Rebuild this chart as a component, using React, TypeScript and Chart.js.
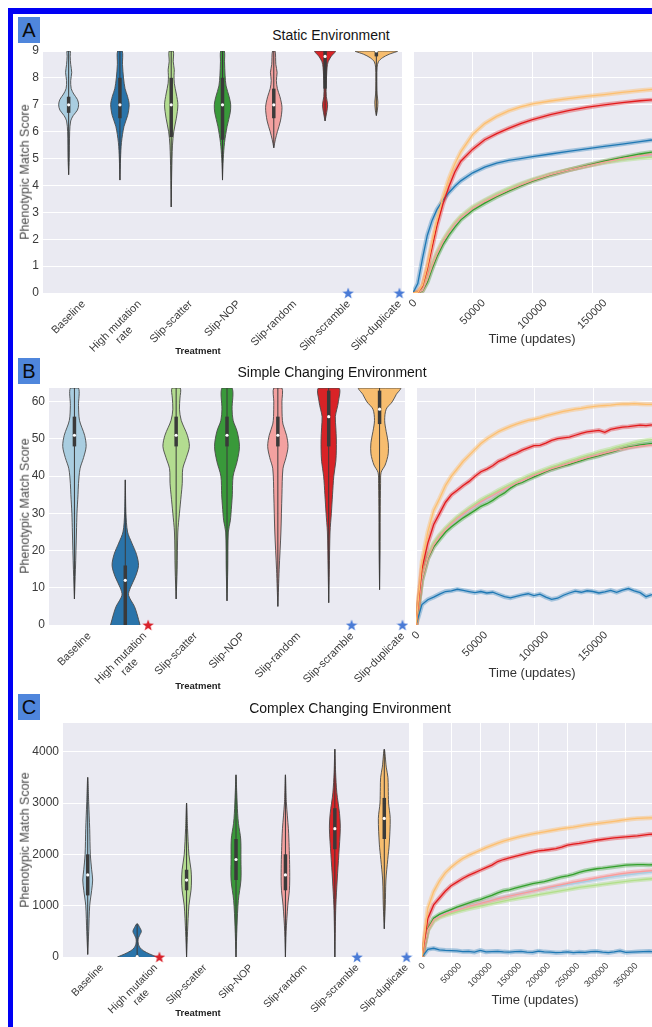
import React, { useEffect, useRef } from 'react';
import { Chart, registerables } from 'chart.js';

Chart.register(...registerables);

const FONT = "'Liberation Sans', Arial, Helvetica, sans-serif";
const LABEL_COLOR = '#3a3a3a';
const PLOT_BG = '#eaeaf2';
const VIOLIN_EDGE = '#4a4a4a';
const INNER = '#3a3a3a';

// ---------- categories & colours ----------
const treatments = ['Baseline', 'High mutation rate', 'Slip-scatter', 'Slip-NOP', 'Slip-random', 'Slip-scramble', 'Slip-duplicate'];
const treatmentTickLabels: (string | string[])[] = ['Baseline', ['High mutation', 'rate'], 'Slip-scatter', 'Slip-NOP', 'Slip-random', 'Slip-scramble', 'Slip-duplicate'];
const violinFill = ['#a9cde0', '#2a74aa', '#b3dc90', '#39993a', '#f3a1a0', '#d82327', '#f7bd6f'];
const lineColor = ['#a6cee3', '#1f78b4', '#b2df8a', '#33a02c', '#fb9a99', '#e31a1c', '#fdbf6f'];
const bandColor = ['rgba(166,206,227,0.45)', 'rgba(31,120,180,0.35)', 'rgba(178,223,138,0.5)', 'rgba(51,160,44,0.35)', 'rgba(251,154,153,0.45)', 'rgba(227,26,28,0.35)', 'rgba(253,191,111,0.45)'];

// ---------- Panel A: Static Environment ----------
const staticYTicks = [0, 1, 2, 3, 4, 5, 6, 7, 8, 9];
const staticYMax = 9;
// violin profiles: [score, half width (category units)]
const staticViolins: number[][][] = [
  [[4.4, 0], [5.0, 0.012], [6.0, 0.02], [6.4, 0.04], [6.6, 0.09], [6.8, 0.17], [7.0, 0.195], [7.2, 0.17], [7.4, 0.1], [7.6, 0.05], [7.9, 0.04], [8.2, 0.06], [8.5, 0.04], [8.8, 0.03], [9, 0.03]],
  [[4.2, 0], [5.0, 0.012], [5.6, 0.03], [6.2, 0.08], [6.6, 0.15], [7.0, 0.18], [7.3, 0.15], [7.6, 0.1], [8.0, 0.07], [8.5, 0.05], [9, 0.045]],
  [[3.2, 0], [4.5, 0.01], [5.5, 0.025], [6.0, 0.05], [6.5, 0.1], [7.0, 0.13], [7.4, 0.1], [7.8, 0.06], [8.1, 0.055], [8.3, 0.06], [8.6, 0.04], [9, 0.04]],
  [[4.2, 0], [5.0, 0.015], [5.6, 0.04], [6.2, 0.09], [6.7, 0.15], [7.0, 0.16], [7.3, 0.13], [7.7, 0.07], [8.1, 0.05], [8.6, 0.04], [9, 0.035]],
  [[5.4, 0], [5.7, 0.03], [6.0, 0.07], [6.4, 0.13], [6.9, 0.16], [7.3, 0.12], [7.6, 0.07], [7.9, 0.05], [8.2, 0.065], [8.5, 0.04], [9, 0.025]],
  [[6.4, 0], [6.7, 0.03], [7.0, 0.05], [7.3, 0.025], [7.7, 0.02], [8.1, 0.03], [8.4, 0.04], [8.6, 0.06], [8.8, 0.12], [9, 0.2]],
  [[6.6, 0], [6.8, 0.02], [7.1, 0.03], [7.4, 0.015], [8.0, 0.01], [8.4, 0.015], [8.6, 0.04], [8.75, 0.12], [8.88, 0.25], [9, 0.41]],
];
// [low whisker, q1, median, q3, high whisker]
const staticBoxes = [
  [4.4, 6.7, 7.0, 7.3, 9], [4.2, 6.5, 7.0, 8.0, 9], [3.2, 5.8, 7.0, 8.0, 9], [4.2, 5.7, 7.0, 8.0, 9],
  [5.4, 6.5, 7.0, 7.6, 9], [6.4, 7.6, 8.8, 9, 9], [6.6, 8.8, 9, 9, 9],
];
const staticStarCats = [5, 6];
const staticStarColors = ['#4a7bd6', '#4a7bd6'];
const staticTimes = [0, 4000, 8000, 12000, 16000, 20000, 25000, 30000, 35000, 40000, 50000, 60000, 70000, 80000, 90000, 100000, 115000, 130000, 145000, 160000, 175000, 190000, 200000];
const staticBaseline = [0, 0, 0.1, 0.45, 0.95, 1.4, 1.85, 2.22, 2.52, 2.78, 3.15, 3.42, 3.65, 3.85, 4.03, 4.2, 4.4, 4.57, 4.72, 4.86, 4.98, 5.08, 5.12];
const staticHighMut = [0, 0.35, 1.3, 2.15, 2.7, 3.1, 3.45, 3.73, 3.97, 4.17, 4.47, 4.68, 4.83, 4.93, 5.0, 5.07, 5.17, 5.27, 5.36, 5.45, 5.54, 5.63, 5.69];
const staticScatter = [0, 0, 0.12, 0.55, 1.05, 1.5, 1.95, 2.3, 2.6, 2.85, 3.2, 3.45, 3.68, 3.88, 4.06, 4.22, 4.42, 4.58, 4.72, 4.85, 4.95, 5.02, 5.05];
const staticNOP = [0, 0, 0.08, 0.4, 0.9, 1.35, 1.8, 2.15, 2.45, 2.72, 3.08, 3.34, 3.58, 3.79, 3.98, 4.16, 4.38, 4.57, 4.74, 4.9, 5.04, 5.17, 5.24];
const staticRandom = [0, 0, 0.1, 0.5, 1.0, 1.45, 1.9, 2.25, 2.55, 2.8, 3.15, 3.41, 3.63, 3.83, 4.02, 4.19, 4.4, 4.57, 4.72, 4.87, 5.0, 5.1, 5.15];
const staticScramble = [0, 0.02, 0.25, 0.9, 1.7, 2.5, 3.3, 3.95, 4.5, 4.9, 5.35, 5.7, 5.93, 6.12, 6.3, 6.45, 6.63, 6.78, 6.9, 7.0, 7.08, 7.15, 7.18];
const staticDuplicate = [0, 0.02, 0.3, 1.0, 1.9, 2.7, 3.55, 4.25, 4.8, 5.25, 5.9, 6.3, 6.57, 6.77, 6.92, 7.03, 7.14, 7.23, 7.31, 7.38, 7.46, 7.53, 7.57];
const staticTimeTicks = [0, 50000, 100000, 150000];
const staticTimeMax = 200000;

// ---------- Panel B: Simple Changing Environment ----------
const simpleYTicks = [0, 10, 20, 30, 40, 50, 60];
const simpleYMax = 63.7;
const simpleViolins: number[][][] = [
  [[7, 0], [15, 0.02], [25, 0.04], [30, 0.05], [35, 0.07], [38, 0.08], [42, 0.11], [45, 0.18], [48, 0.23], [51, 0.2], [55, 0.1], [59, 0.08], [63.7, 0.08]],
  [[0, 0.29], [3, 0.23], [5, 0.18], [8, 0.065], [10, 0.1], [13, 0.2], [16, 0.26], [19, 0.22], [22, 0.13], [25, 0.045], [30, 0.013], [39, 0]],
  [[7, 0], [15, 0.02], [25, 0.033], [30, 0.065], [35, 0.1], [38, 0.12], [42, 0.13], [45, 0.2], [48, 0.26], [51, 0.22], [55, 0.1], [58, 0.065], [61, 0.075], [63.7, 0.08]],
  [[6.5, 0], [15, 0.015], [25, 0.026], [28, 0.065], [32, 0.09], [35, 0.105], [40, 0.12], [44, 0.2], [48, 0.245], [52, 0.2], [55, 0.12], [58, 0.1], [63.7, 0.1]],
  [[5, 0], [10, 0.013], [15, 0.026], [25, 0.06], [35, 0.08], [42, 0.1], [45, 0.16], [48, 0.2], [51, 0.17], [54, 0.1], [56, 0.085], [60, 0.08], [63.7, 0.08]],
  [[6, 0], [15, 0.012], [25, 0.026], [30, 0.052], [35, 0.075], [40, 0.1], [44, 0.14], [47, 0.15], [50, 0.15], [53, 0.14], [56, 0.13], [58, 0.16], [60, 0.19], [63.7, 0.2]],
  [[9.5, 0], [20, 0.01], [30, 0.013], [38, 0.02], [41, 0.03], [43, 0.11], [46, 0.17], [49, 0.17], [52, 0.13], [55, 0.1], [58, 0.13], [60, 0.25], [62, 0.33], [63.7, 0.41]],
];
const simpleBoxes = [
  [7, 48, 51, 56, 63.7], [0, 0, 12, 16, 39], [7, 48, 51, 56, 63.7], [6.5, 48, 51, 56, 63.7],
  [5, 48, 51, 56, 63.7], [6, 48, 56, 63, 63.7], [9.5, 54, 58, 63, 63.7],
];
const simpleStarCats = [1, 5, 6];
const simpleStarColors = ['#d9222b', '#4a7bd6', '#4a7bd6'];
const simpleTimes = [0, 5000, 10000, 15000, 20000, 25000, 30000, 35000, 40000, 45000, 50000, 55000, 60000, 65000, 70000, 75000, 80000, 85000, 90000, 95000, 100000, 105000, 110000, 115000, 120000, 125000, 130000, 135000, 140000, 145000, 150000, 155000, 160000, 165000, 170000, 175000, 180000, 185000, 190000, 195000, 200000];
const simpleBaseline = [0, 12, 18, 21.5, 23.8, 25.5, 27, 28.4, 29.6, 30.8, 31.8, 32.9, 33.8, 34.7, 35.6, 36.4, 37.2, 38, 38.7, 39.4, 40.1, 40.7, 41.3, 41.9, 42.4, 42.9, 43.4, 43.9, 44.4, 44.9, 45.3, 45.7, 46.1, 46.5, 46.9, 47.3, 47.7, 48, 48.3, 48.6, 48.9];
const simpleHighMut = [0, 5.5, 6.8, 7.5, 8.3, 9.0, 9.2, 9.6, 9.3, 9.0, 8.7, 9.0, 8.6, 8.8, 8.2, 7.6, 7.3, 7.7, 8.1, 8.4, 7.9, 8.3, 7.5, 6.9, 7.2, 8.0, 8.6, 9.1, 8.8, 9.2, 9.0, 8.6, 8.9, 9.3, 8.8, 9.4, 9.8, 9.2, 8.7, 7.6, 8.2];
const simpleScatter = [0, 12.5, 18.5, 22, 24.2, 26, 27.6, 29, 30.2, 31.4, 32.5, 33.6, 34.5, 35.3, 36.2, 37, 37.8, 38.6, 39.3, 40, 40.7, 41.3, 41.9, 42.5, 43, 43.6, 44.1, 44.6, 45.1, 45.6, 46, 46.5, 46.9, 47.3, 47.8, 48.2, 48.6, 49, 49.3, 49.6, 49.8];
const simpleNOP = [0, 12, 17.8, 21, 23, 25, 26.4, 27.6, 28.8, 29.8, 30.8, 31.9, 32.6, 33.5, 34.6, 35.5, 36.8, 37.8, 38.3, 39.1, 39.8, 40.5, 41.2, 41.8, 42.3, 42.8, 43.2, 43.7, 44.2, 44.7, 45.1, 45.5, 46, 46.4, 46.9, 47.4, 47.8, 48.1, 48.4, 48.6, 48.8];
const simpleRandom = [0, 12.2, 18, 21.5, 23.8, 25.6, 27.2, 28.6, 29.8, 31, 32, 33.1, 34, 34.8, 35.7, 36.5, 37.3, 38.1, 38.8, 39.5, 40.2, 40.8, 41.4, 42, 42.5, 43, 43.5, 44, 44.5, 45, 45.4, 45.8, 46.2, 46.6, 47, 47.3, 47.6, 47.9, 48.1, 48.3, 48.4];
const simpleScramble = [0, 15, 22, 27, 30, 33, 35, 36.2, 37.5, 38.6, 40, 41.2, 41.9, 42.8, 44, 44.7, 45.6, 46.2, 47, 47.6, 48.2, 48.3, 48.9, 49.6, 50.1, 50.3, 50.5, 51, 51.5, 51.9, 52.1, 52.3, 51.8, 52.6, 52.9, 53.2, 53.3, 53.5, 53.7, 53.6, 53.8];
const simpleDuplicate = [0, 17, 25, 30.8, 34, 37.5, 40, 42, 44, 45.6, 47.2, 48.8, 50, 51, 52, 52.7, 53.4, 54, 54.5, 55, 55.3, 55.7, 56.2, 56.6, 57, 57.4, 57.7, 58, 58.2, 58.5, 58.7, 58.9, 59, 59.1, 59.3, 59.4, 59.4, 59.5, 59.4, 59.3, 59.3];
const simpleTimeTicks = [0, 50000, 100000, 150000];
const simpleTimeMax = 200000;

// ---------- Panel C: Complex Changing Environment ----------
const complexYTicks = [0, 1000, 2000, 3000, 4000];
const complexYMax = 4560;
const complexViolins: number[][][] = [
  [[50, 0], [500, 0.02], [1000, 0.04], [1300, 0.08], [1500, 0.1], [1700, 0.08], [2000, 0.053], [2500, 0.04], [3000, 0.02], [3500, 0]],
  [[0, 0.4], [60, 0.25], [120, 0.13], [180, 0.06], [250, 0.025], [350, 0.02], [420, 0.05], [500, 0.085], [580, 0.05], [650, 0]],
  [[0, 0], [500, 0.02], [1000, 0.047], [1300, 0.09], [1500, 0.1], [1700, 0.09], [2000, 0.047], [2500, 0.02], [3000, 0]],
  [[0, 0], [600, 0.02], [1100, 0.047], [1500, 0.1], [1900, 0.1], [2300, 0.095], [2600, 0.05], [2800, 0.033], [3200, 0.015], [3550, 0]],
  [[0, 0], [500, 0.015], [1000, 0.047], [1300, 0.08], [1500, 0.087], [1800, 0.085], [2000, 0.08], [2300, 0.07], [2500, 0.06], [3000, 0.02], [3550, 0]],
  [[0, 0], [600, 0.01], [1000, 0.02], [1500, 0.047], [2000, 0.08], [2500, 0.11], [2800, 0.094], [3200, 0.04], [3600, 0.015], [4050, 0]],
  [[550, 0], [1000, 0.02], [1500, 0.033], [1900, 0.07], [2200, 0.1], [2700, 0.12], [3000, 0.087], [3300, 0.08], [3500, 0.074], [3700, 0.04], [4050, 0]],
];
const complexBoxes = [
  [50, 1200, 1600, 2000, 3500], [0, 0, 10, 30, 650], [0, 1300, 1500, 1700, 3000], [0, 1500, 1900, 2300, 3550],
  [0, 1300, 1600, 2000, 3550], [0, 2100, 2500, 2900, 4050], [550, 2300, 2700, 3100, 4050],
];
const complexStarCats = [1, 5, 6];
const complexStarColors = ['#d9222b', '#4a7bd6', '#4a7bd6'];
const complexTimes = [0, 10000, 20000, 30000, 40000, 50000, 60000, 70000, 80000, 90000, 100000, 110000, 120000, 130000, 140000, 150000, 160000, 170000, 180000, 190000, 200000, 210000, 220000, 230000, 240000, 250000, 260000, 270000, 280000, 290000, 300000, 310000, 320000, 330000, 340000, 350000, 360000, 370000, 380000, 390000, 400000];
const complexBaseline = [0, 530, 730, 800, 850, 890, 925, 960, 990, 1020, 1050, 1080, 1110, 1140, 1165, 1190, 1215, 1240, 1265, 1290, 1310, 1330, 1350, 1370, 1390, 1410, 1430, 1450, 1470, 1490, 1510, 1530, 1550, 1565, 1580, 1595, 1610, 1625, 1640, 1650, 1660];
const complexHighMut = [0, 150, 170, 140, 130, 125, 120, 105, 110, 95, 130, 100, 105, 110, 100, 95, 105, 110, 95, 90, 115, 100, 95, 85, 90, 100, 85, 95, 90, 105, 110, 95, 85, 100, 120, 90, 95, 100, 105, 110, 100];
const complexScatter = [0, 520, 700, 770, 810, 845, 880, 910, 940, 965, 990, 1015, 1040, 1065, 1090, 1115, 1135, 1155, 1175, 1195, 1215, 1235, 1255, 1275, 1295, 1315, 1335, 1355, 1370, 1385, 1400, 1415, 1430, 1445, 1460, 1475, 1490, 1500, 1510, 1520, 1530];
const complexNOP = [0, 550, 755, 830, 880, 925, 970, 1010, 1050, 1090, 1120, 1160, 1200, 1250, 1290, 1310, 1340, 1370, 1400, 1430, 1450, 1470, 1500, 1530, 1560, 1580, 1610, 1650, 1680, 1700, 1720, 1730, 1745, 1760, 1775, 1790, 1795, 1800, 1800, 1795, 1800];
const complexRandom = [0, 530, 720, 790, 840, 880, 915, 950, 985, 1015, 1045, 1075, 1105, 1135, 1160, 1185, 1210, 1235, 1260, 1285, 1310, 1335, 1360, 1385, 1410, 1435, 1460, 1480, 1500, 1520, 1540, 1560, 1580, 1600, 1620, 1635, 1650, 1660, 1670, 1680, 1690];
const complexScramble = [0, 750, 1015, 1150, 1280, 1390, 1460, 1530, 1590, 1640, 1690, 1740, 1790, 1860, 1900, 1930, 1960, 1990, 2020, 2045, 2070, 2080, 2095, 2110, 2140, 2180, 2200, 2215, 2235, 2255, 2275, 2290, 2305, 2320, 2330, 2340, 2350, 2360, 2375, 2390, 2395];
const complexDuplicate = [0, 950, 1275, 1480, 1640, 1750, 1840, 1920, 1980, 2030, 2080, 2130, 2175, 2220, 2260, 2290, 2320, 2350, 2375, 2400, 2420, 2440, 2460, 2480, 2500, 2515, 2530, 2550, 2570, 2585, 2600, 2615, 2630, 2645, 2660, 2675, 2690, 2700, 2705, 2710, 2715];
const complexTimeTicks = [0, 50000, 100000, 150000, 200000, 250000, 300000, 350000];
const complexTimeMax = 395000;

// ---------- layout ----------
type Rect = { x: number; y: number; w: number; h: number };
type Area = { l: number; t: number; r: number; b: number };

const panels = [
  {
    letter: 'A', title: 'Static Environment',
    yTicks: staticYTicks, yMax: staticYMax, violins: staticViolins, boxes: staticBoxes,
    starCats: staticStarCats, starColors: staticStarColors,
    times: staticTimes, series: [staticBaseline, staticHighMut, staticScatter, staticNOP, staticRandom, staticScramble, staticDuplicate],
    timeTicks: staticTimeTicks, timeMax: staticTimeMax,
    geo: {
      vio: { x: 12, y: 43, w: 398, h: 312 }, vioArea: { l: 43, t: 51, r: 402, b: 293 },
      line: { x: 402, y: 43, w: 250, h: 302 }, lineArea: { l: 413, t: 51, r: 652, b: 293 },
      box: { x: 18, y: 17 }, title: { x: 331, y: 35 }, yLabel: { x: 25, y: 172 }, xLabel: { x: 198, y: 351 }, timeLabel: { x: 532, y: 338 },
      vioFont: 11, timeFont: 11,
    },
  },
  {
    letter: 'B', title: 'Simple Changing Environment',
    yTicks: simpleYTicks, yMax: simpleYMax, violins: simpleViolins, boxes: simpleBoxes,
    starCats: simpleStarCats, starColors: simpleStarColors,
    times: simpleTimes, series: [simpleBaseline, simpleHighMut, simpleScatter, simpleNOP, simpleRandom, simpleScramble, simpleDuplicate],
    timeTicks: simpleTimeTicks, timeMax: simpleTimeMax,
    geo: {
      vio: { x: 12, y: 379, w: 400, h: 312 }, vioArea: { l: 49, t: 388, r: 405, b: 625 },
      line: { x: 405, y: 379, w: 247, h: 300 }, lineArea: { l: 416, t: 388, r: 652, b: 625 },
      box: { x: 18, y: 358 }, title: { x: 332, y: 372 }, yLabel: { x: 25, y: 506 }, xLabel: { x: 198, y: 686 }, timeLabel: { x: 532, y: 672 },
      vioFont: 11, timeFont: 11,
    },
  },
  {
    letter: 'C', title: 'Complex Changing Environment',
    yTicks: complexYTicks, yMax: complexYMax, violins: complexViolins, boxes: complexBoxes,
    starCats: complexStarCats, starColors: complexStarColors,
    times: complexTimes, series: [complexBaseline, complexHighMut, complexScatter, complexNOP, complexRandom, complexScramble, complexDuplicate],
    timeTicks: complexTimeTicks, timeMax: complexTimeMax,
    geo: {
      vio: { x: 12, y: 715, w: 404, h: 312 }, vioArea: { l: 63, t: 723, r: 410, b: 957 },
      line: { x: 412, y: 715, w: 240, h: 300 }, lineArea: { l: 422, t: 723, r: 652, b: 957 },
      box: { x: 18, y: 694 }, title: { x: 350, y: 708 }, yLabel: { x: 25, y: 840 }, xLabel: { x: 198, y: 1013 }, timeLabel: { x: 535, y: 999 },
      vioFont: 10.5, timeFont: 9,
    },
  },
];

// ---------- plugins ----------
function makeBgPlugin() {
  return {
    id: 'plotBg',
    beforeDraw(chart: any) {
      const { ctx, chartArea: a } = chart;
      ctx.save();
      ctx.fillStyle = PLOT_BG;
      ctx.fillRect(a.left, a.top, a.right - a.left, a.bottom - a.top);
      ctx.restore();
    },
  };
}

function makeRotLabelPlugin(labels: (string | string[])[] | null, pad: number, fontSize: number) {
  return {
    id: 'rotLabels',
    afterDraw(chart: any) {
      const sc = chart.scales.x;
      const ctx = chart.ctx;
      const lh = fontSize * 1.12;
      const c = Math.SQRT1_2;
      ctx.save();
      ctx.font = `${fontSize}px ${FONT}`;
      ctx.fillStyle = LABEL_COLOR;
      ctx.textAlign = 'center';
      ctx.textBaseline = 'middle';
      for (const t of sc.ticks) {
        const raw = labels ? labels[t.value] : String(t.value);
        if (raw == null) continue;
        const lines = Array.isArray(raw) ? raw : [raw];
        const w = Math.max(...lines.map((l: string) => ctx.measureText(l).width));
        const h = lines.length * lh;
        const px = sc.getPixelForValue(t.value);
        const top = chart.chartArea.bottom + pad;
        ctx.save();
        ctx.translate(px + (c * w) / 2, top + (c * h) / 2);
        ctx.rotate(-Math.PI / 4);
        lines.forEach((l: string, k: number) => ctx.fillText(l, -w / 2, -h / 2 + lh * (k + 0.5)));
        ctx.restore();
      }
      ctx.restore();
    },
  };
}

function makeStar(color: string): HTMLCanvasElement {
  const c = document.createElement('canvas');
  c.width = 12;
  c.height = 12;
  const g = c.getContext('2d')!;
  g.fillStyle = color;
  g.beginPath();
  for (let k = 0; k < 10; k++) {
    const r = k % 2 === 0 ? 6 : 2.5;
    const a = -Math.PI / 2 + (k * Math.PI) / 5;
    const px = 6 + r * Math.cos(a);
    const py = 6.6 + r * Math.sin(a);
    if (k === 0) g.moveTo(px, py);
    else g.lineTo(px, py);
  }
  g.closePath();
  g.fill();
  return c;
}

function padding(c: Rect, a: Area) {
  return { left: 0, top: a.t - c.y, right: c.x + c.w - a.r, bottom: c.y + c.h - a.b };
}

function yScale(p: any, c: Rect, a: Area, showTicks: boolean) {
  return {
    type: 'linear',
    min: 0,
    max: p.yMax,
    grid: { color: '#ffffff', lineWidth: 1, drawTicks: false },
    border: { display: false },
    ticks: { display: showTicks, font: { family: FONT, size: 12 }, color: LABEL_COLOR, padding: 4, callback: (v: number) => String(v) },
    afterBuildTicks: (s: any) => { s.ticks = p.yTicks.map((v: number) => ({ value: v })); },
    afterFit: (s: any) => { s.width = a.l - c.x; s.paddingTop = 0; s.paddingBottom = 0; },
  };
}

function violinConfig(p: any): any {
  const c: Rect = p.geo.vio;
  const a: Area = p.geo.vioArea;
  const datasets: any[] = [];
  p.violins.forEach((prof: number[][], i: number) => {
    const leftSide = prof.map(([y, w]) => ({ x: i - w, y }));
    const rightSrc = prof.slice().reverse();
    const rightSide = (rightSrc[0][1] === 0 ? rightSrc.slice(1) : rightSrc).map(([y, w]) => ({ x: i + w, y }));
    datasets.push({ data: [...leftSide, ...rightSide], fill: 'shape', backgroundColor: violinFill[i], borderColor: VIOLIN_EDGE, borderWidth: 0.9, tension: 0.3, pointRadius: 0, order: 10 });
    const [lo, q1, med, q3, hi] = p.boxes[i];
    datasets.push({ data: [{ x: i, y: lo }, { x: i, y: hi }], borderColor: INNER, borderWidth: 1, pointRadius: 0, fill: false, order: 4 });
    datasets.push({ data: [{ x: i, y: q1 }, { x: i, y: q3 }], borderColor: INNER, borderWidth: 3.5, borderCapStyle: 'butt', pointRadius: 0, fill: false, order: 3 });
    datasets.push({ data: [{ x: i, y: med }], showLine: false, pointRadius: 1.6, pointBackgroundColor: '#ffffff', pointBorderWidth: 0, order: 2 });
  });
  p.starCats.forEach((cat: number, k: number) => {
    datasets.push({ data: [{ x: cat + 0.45, y: 0 }], showLine: false, pointStyle: makeStar(p.starColors[k]), pointRadius: 6, clip: false, order: 0 });
  });
  return {
    type: 'line',
    data: { datasets },
    options: {
      responsive: false, animation: false, events: [],
      layout: { padding: padding(c, a) },
      plugins: { legend: { display: false }, tooltip: { enabled: false } },
      scales: {
        x: {
          type: 'linear', min: -0.5, max: 6.5,
          grid: { display: false, drawTicks: false }, border: { display: false }, ticks: { display: false },
          afterBuildTicks: (s: any) => { s.ticks = treatments.map((_t, i) => ({ value: i })); },
          afterFit: (s: any) => { s.height = 0; s.paddingLeft = 0; s.paddingRight = 0; },
        },
        y: yScale(p, c, a, true),
      },
    },
    plugins: [makeBgPlugin(), makeRotLabelPlugin(treatmentTickLabels, 5, p.geo.vioFont)],
  };
}

function lineConfig(p: any): any {
  const c: Rect = p.geo.line;
  const a: Area = p.geo.lineArea;
  const datasets: any[] = [];
  p.series.forEach((vals: number[], k: number) => {
    const pts = vals.map((v, j) => ({ x: p.times[j], y: v }));
    datasets.push({ data: pts, borderColor: bandColor[k], borderWidth: 4.5, pointRadius: 0, fill: false, order: 40 - k });
    datasets.push({ data: pts, borderColor: lineColor[k], borderWidth: 1.3, pointRadius: 0, fill: false, order: 20 - k });
  });
  return {
    type: 'line',
    data: { datasets },
    options: {
      responsive: false, animation: false, events: [],
      layout: { padding: padding(c, a) },
      plugins: { legend: { display: false }, tooltip: { enabled: false } },
      scales: {
        x: {
          type: 'linear', min: 0, max: p.timeMax,
          grid: { color: '#ffffff', lineWidth: 1, drawTicks: false }, border: { display: false }, ticks: { display: false },
          afterBuildTicks: (s: any) => { s.ticks = p.timeTicks.map((v: number) => ({ value: v })); },
          afterFit: (s: any) => { s.height = 0; s.paddingLeft = 0; s.paddingRight = 0; },
        },
        y: yScale(p, c, a, false),
      },
    },
    plugins: [makeBgPlugin(), makeRotLabelPlugin(null, 4, p.geo.timeFont)],
  };
}

function ChartCanvas({ rect, build }: { rect: Rect; build: () => any }) {
  const ref = useRef<HTMLCanvasElement>(null);
  useEffect(() => {
    const chart = new Chart(ref.current as HTMLCanvasElement, build());
    return () => chart.destroy();
  }, []);
  return (
    <canvas
      ref={ref}
      width={rect.w}
      height={rect.h}
      style={{ position: 'absolute', left: rect.x, top: rect.y, width: rect.w, height: rect.h }}
    />
  );
}

function Text({ x, y, size, children, rotate, color, weight }: any) {
  return (
    <div
      style={{
        position: 'absolute', left: x, top: y, whiteSpace: 'nowrap',
        transform: `translate(-50%, -50%)${rotate ? ' rotate(-90deg)' : ''}`,
        fontSize: size, color: color || '#333', fontFamily: FONT, fontWeight: weight || 'normal', lineHeight: 1,
      }}
    >
      {children}
    </div>
  );
}

export default function App() {
  useEffect(() => {
    document.body.style.overflow = 'hidden';
  }, []);
  return (
    <div style={{ position: 'absolute', left: 0, top: 0, width: 652, height: 1027, overflow: 'hidden', background: '#ffffff', fontFamily: FONT }}>
      <div
        style={{
          position: 'absolute', left: 8, top: 8, width: 660, height: 1040, boxSizing: 'border-box',
          borderTop: '6px solid #0000f4', borderLeft: '5px solid #0000f4',
        }}
      />
      {panels.map((p) => (
        <React.Fragment key={p.letter}>
          <div
            style={{
              position: 'absolute', left: p.geo.box.x, top: p.geo.box.y, width: 22, height: 26,
              background: '#4f86dc', color: '#0a0a0a', fontSize: 20, lineHeight: '26px', textAlign: 'center', fontFamily: FONT,
            }}
          >
            {p.letter}
          </div>
          <Text x={p.geo.title.x} y={p.geo.title.y} size={14} color="#141414">{p.title}</Text>
          <ChartCanvas rect={p.geo.vio} build={() => violinConfig(p)} />
          <ChartCanvas rect={p.geo.line} build={() => lineConfig(p)} />
          <Text x={p.geo.yLabel.x} y={p.geo.yLabel.y} size={12.5} color="#484848" rotate>Phenotypic Match Score</Text>
          <Text x={p.geo.xLabel.x} y={p.geo.xLabel.y} size={9.5} color="#222" weight="bold">Treatment</Text>
          <Text x={p.geo.timeLabel.x} y={p.geo.timeLabel.y} size={13}>Time (updates)</Text>
        </React.Fragment>
      ))}
    </div>
  );
}
